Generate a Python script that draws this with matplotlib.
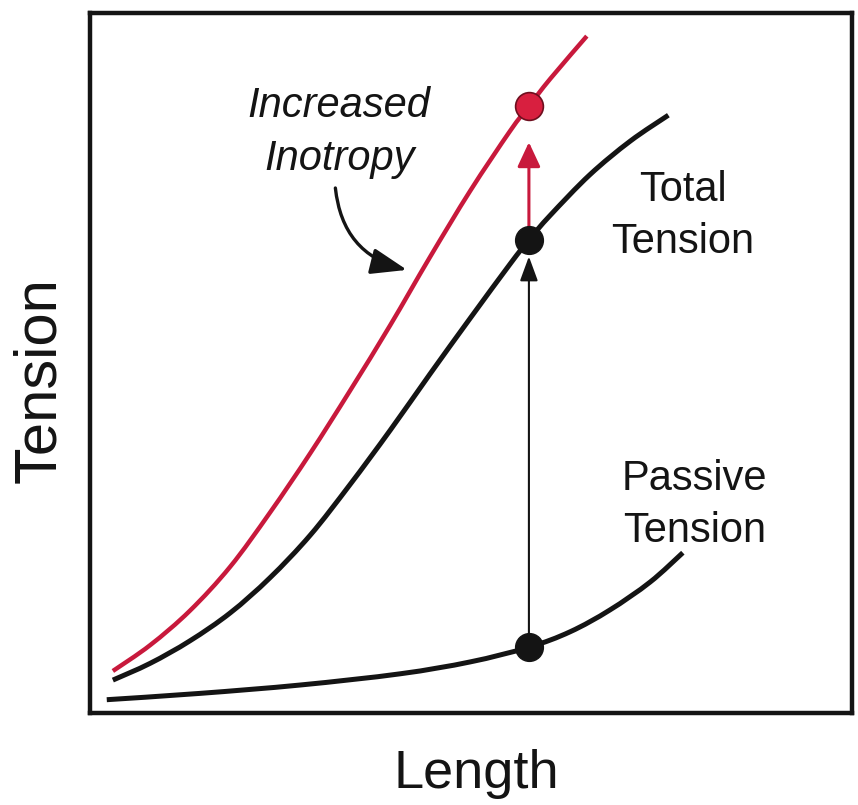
import numpy as np
import matplotlib
matplotlib.use("Agg")
import matplotlib.pyplot as plt
from matplotlib.path import Path
from matplotlib.patches import PathPatch

plt.rcParams['font.family'] = ['Liberation Sans', 'DejaVu Sans']

# length-tension curves (arbitrary units, 0-100 on both axes)
inotropy_len = [3.0, 7.9, 13.1, 18.4, 23.6, 28.9, 34.1, 39.4, 44.6, 49.9,
                55.1, 57.6, 60.4, 65.2]
inotropy_ten = [6.0, 9.7, 14.6, 20.9, 28.6, 37.1, 46.0, 55.4, 65.1, 74.6,
                83.1, 86.7, 90.6, 96.7]

total_len = [3.0, 7.9, 13.1, 18.4, 23.6, 28.9, 34.1, 39.4, 44.6, 49.9,
             55.1, 57.6, 60.4, 65.6, 70.9, 75.9]
total_ten = [4.7, 7.1, 10.3, 14.3, 19.3, 25.4, 32.6, 40.4, 48.4, 56.4,
             64.1, 67.6, 71.1, 76.9, 81.7, 85.4]

passive_len = [2.2, 14.4, 27.6, 40.7, 49.9, 57.6, 63.0, 68.2, 73.5, 77.8]
passive_ten = [1.9, 2.8, 4.0, 5.6, 7.3, 9.4, 11.6, 14.7, 18.7, 22.9]

# operating length and the tension on each curve there
mark_len = 57.6
mark_passive = 9.4
mark_total = 67.6
mark_inotropy = 86.7

BLACK = '#141414'
RED = '#c8193c'


def smooth_path(xs, ys):
    # Catmull-Rom through the points, handed to matplotlib as cubic Beziers
    pts = np.column_stack([xs, ys])
    verts = [pts[0]]
    codes = [Path.MOVETO]
    n = len(pts)
    for i in range(n - 1):
        p0 = pts[max(i - 1, 0)]
        p1 = pts[i]
        p2 = pts[i + 1]
        p3 = pts[min(i + 2, n - 1)]
        verts += [p1 + (p2 - p0) / 6, p2 - (p3 - p1) / 6, p2]
        codes += [Path.CURVE4] * 3
    return Path(verts, codes)


fig = plt.figure(figsize=(8.58, 8.05), dpi=100)
ax = fig.add_axes([90 / 858, 92 / 805, 762 / 858, 700 / 805])
ax.set_xlim(0, 100)
ax.set_ylim(0, 100)
ax.set_xticks([])
ax.set_yticks([])
for sp in ax.spines.values():
    sp.set_linewidth(3.2)
    sp.set_color(BLACK)

for xs, ys, col, lw in [(passive_len, passive_ten, BLACK, 3.6),
                        (total_len, total_ten, BLACK, 3.6),
                        (inotropy_len, inotropy_ten, RED, 3.2)]:
    ax.add_patch(PathPatch(smooth_path(xs, ys), fill=False, edgecolor=col,
                           lw=lw, capstyle='butt', zorder=2))

# vertical arrows: passive -> total, total -> increased inotropy
ax.annotate('', xy=(mark_len, mark_total), xytext=(mark_len, mark_passive),
            arrowprops=dict(arrowstyle='-|>,head_length=1.5,head_width=0.55',
                            mutation_scale=10, lw=1.5, color=BLACK,
                            shrinkA=0, shrinkB=12), zorder=3)
ax.annotate('', xy=(mark_len, mark_inotropy), xytext=(mark_len, mark_total),
            arrowprops=dict(arrowstyle='-|>,head_length=1.5,head_width=0.7',
                            mutation_scale=10, lw=2.2, color=RED,
                            shrinkA=0, shrinkB=26), zorder=3)

ax.plot([mark_len, mark_len], [mark_passive, mark_total], 'o', ms=20,
        mfc=BLACK, mec=BLACK, zorder=4)
ax.plot([mark_len], [mark_inotropy], 'o', ms=20, mfc='#d81f3f',
        mec='#6e0f1f', mew=1.2, zorder=4)

# labels
ax.text(32.7, 77.6, 'Increased\nInotropy', style='italic', fontsize=30,
        ha='center', va='baseline', linespacing=1.4, color=BLACK)
ax.annotate('', xy=(41.6, 63.3), xytext=(32.2, 75.0),
            arrowprops=dict(arrowstyle='-|>,head_length=2.2,head_width=0.8',
                            mutation_scale=10, lw=2.4, color=BLACK,
                            connectionstyle='arc3,rad=0.35',
                            shrinkA=0, shrinkB=0))
ax.text(77.8, 65.7, 'Total\nTension', fontsize=30, ha='center',
        va='baseline', linespacing=1.4, color=BLACK)
ax.text(79.3, 24.4, 'Passive\nTension', fontsize=30, ha='center',
        va='baseline', linespacing=1.4, color=BLACK)

ax.set_xlabel('Length', fontsize=39, color=BLACK)
ax.xaxis.set_label_coords(0.507, -0.051)
ax.set_ylabel('Tension', fontsize=43, color=BLACK)
ax.yaxis.set_label_coords(-0.03, 0.476)

fig.savefig('out.png', dpi=100, facecolor='white')
